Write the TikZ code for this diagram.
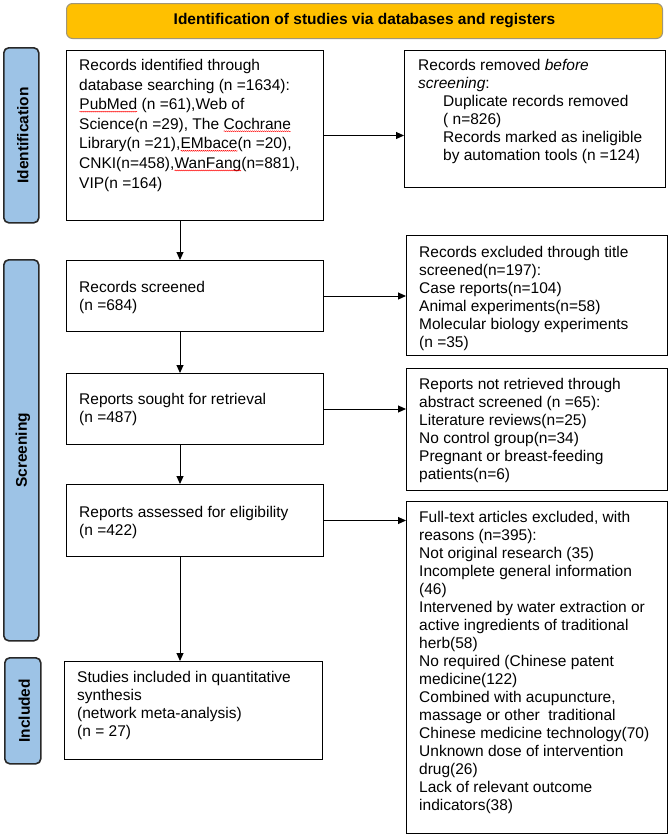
\documentclass[tikz,border=0pt]{standalone}
\usepackage{fontspec}
\setmainfont{Liberation Sans}
\usetikzlibrary{arrows.meta,decorations.pathmorphing}
\definecolor{bannerfill}{RGB}{255,192,0}
\definecolor{bannerline}{RGB}{160,150,120}
\definecolor{sidefill}{RGB}{157,195,230}
\definecolor{sideline}{RGB}{40,40,40}
\newcommand{\squig}[1]{\tikz[baseline=(sq.base)]{\node[inner sep=0pt,outer sep=0pt,anchor=base,draw=none](sq){#1};\draw[red,line width=0.45pt,decorate,decoration={snake,amplitude=0.5pt,segment length=2pt}]([yshift=-2pt]sq.base west)--([yshift=-2pt]sq.base east);}}
\begin{document}
\begin{tikzpicture}[x=1pt,y=-1pt,
  box/.style={draw=black,line width=1pt,inner sep=0pt,anchor=north west},
  txt/.style={inner sep=0pt,anchor=north west,align=left,font=\fontsize{15.5}{18}\selectfont},
  side/.style={draw=sideline,fill=sidefill,line width=1.6pt,rounded corners=5pt,inner sep=0pt,anchor=north west},
  sidetxt/.style={rotate=90,font=\fontsize{15.5}{18}\selectfont\bfseries},
  arr/.style={line width=1pt,-{Triangle[length=8pt,width=7pt]}}]
\useasboundingbox (0,0) rectangle (671,836);
% banner
\node[draw=bannerline,fill=bannerfill,line width=1pt,rounded corners=6pt,inner sep=0pt,anchor=north west,minimum width=596pt,minimum height=35pt] (ban) at (66,3) {};
\node[font=\fontsize{15.5}{18}\selectfont\bfseries] (bant) at (ban.center) {Identification of studies via databases and registers};
% side labels
\node[side,minimum width=35pt,minimum height=175pt] (s1) at (3,47) {};
\node[sidetxt] at ([xshift=1.5pt]s1.center) {Identification};
\node[side,minimum width=35pt,minimum height=381pt] (s2) at (3,259) {};
\node[sidetxt] at ([xshift=1.5pt]s2.center) {Screening};
\node[side,minimum width=36pt,minimum height=106pt] (s3) at (4,657) {};
\node[sidetxt] at ([xshift=1.5pt]s3.center) {Included};
% left boxes
\node[box,minimum width=257pt,minimum height=170pt] (b1) at (66,50) {};
\node[box,minimum width=257pt,minimum height=71pt] (b2) at (66,260) {};
\node[box,minimum width=257pt,minimum height=71pt] (b3) at (66,373) {};
\node[box,minimum width=257pt,minimum height=72pt] (b4) at (66,484) {};
\node[box,minimum width=258pt,minimum height=98pt] (b5) at (64,661) {};
% right boxes
\node[box,minimum width=261pt,minimum height=137pt] (r1) at (404,50) {};
\node[box,minimum width=261pt,minimum height=120pt] (r2) at (406,235) {};
\node[box,minimum width=261pt,minimum height=122pt] (r3) at (406,368) {};
\node[box,minimum width=261pt,minimum height=332pt] (r4) at (406,501) {};
% texts
\node[txt,font=\fontsize{15.5}{19.6}\selectfont] (t1) at (79,59) {Records identified through\\database searching (n =1634):\\\squig{PubMed} (n =61),Web of\\Science(n =29), The \squig{Cochrane}\\Library(n =21),\squig{EMbace}(n =20),\\CNKI(n=458),\squig{WanFang}(n=881),\\VIP(n =164)};
\node[txt] (tr1) at (418,59) {Records removed \textit{before}\\\textit{screening}:\\\hspace*{25pt}Duplicate records removed\\\hspace*{25pt}( n=826)\\\hspace*{25pt}Records marked as ineligible\\\hspace*{25pt}by automation tools (n =124)};
\node[txt] (t2) at (79,281) {Records screened\\(n =684)};
\node[txt] (t3) at (79,393) {Reports sought for retrieval\\(n =487)};
\node[txt] (t4) at (79,506) {Reports assessed for eligibility\\(n =422)};
\node[txt] (t5) at (77,671) {Studies included in quantitative\\synthesis\\(network meta-analysis)\\(n = 27)};
\node[txt] (tr2) at (419,246) {Records excluded through title\\screened(n=197):\\Case reports(n=104)\\Animal experiments(n=58)\\Molecular biology experiments\\(n =35)};
\node[txt] (tr3) at (419,378) {Reports not retrieved through\\abstract screened (n =65):\\Literature reviews(n=25)\\No control group(n=34)\\Pregnant or breast-feeding\\patients(n=6)};
\node[txt] (tr4) at (419,511) {Full-text articles excluded, with\\reasons (n=395):\\Not original research (35)\\Incomplete general information\\(46)\\Intervened by water extraction or\\active ingredients of traditional\\herb(58)\\No required (Chinese patent\\medicine(122)\\Combined with acupuncture,\\massage or other\ \ traditional\\Chinese medicine technology(70)\\Unknown dose of intervention\\drug(26)\\Lack of relevant outcome\\indicators(38)};
% connectors
\coordinate (ax) at (180,0);
\draw[arr] (b1.south -| ax) -- (b2.north -| ax);
\draw[arr] (b2.south -| ax) -- (b3.north -| ax);
\draw[arr] (b3.south -| ax) -- (b4.north -| ax);
\draw[arr] (b4.south -| ax) -- (b5.north -| ax);
\draw[arr] (b1.east) -- (b1.east -| r1.west);
\draw[arr] (b2.east) -- (b2.east -| r2.west);
\draw[arr] (b3.east) -- (b3.east -| r3.west);
\draw[arr] (b4.east) -- (b4.east -| r4.west);
\end{tikzpicture}
\end{document}
